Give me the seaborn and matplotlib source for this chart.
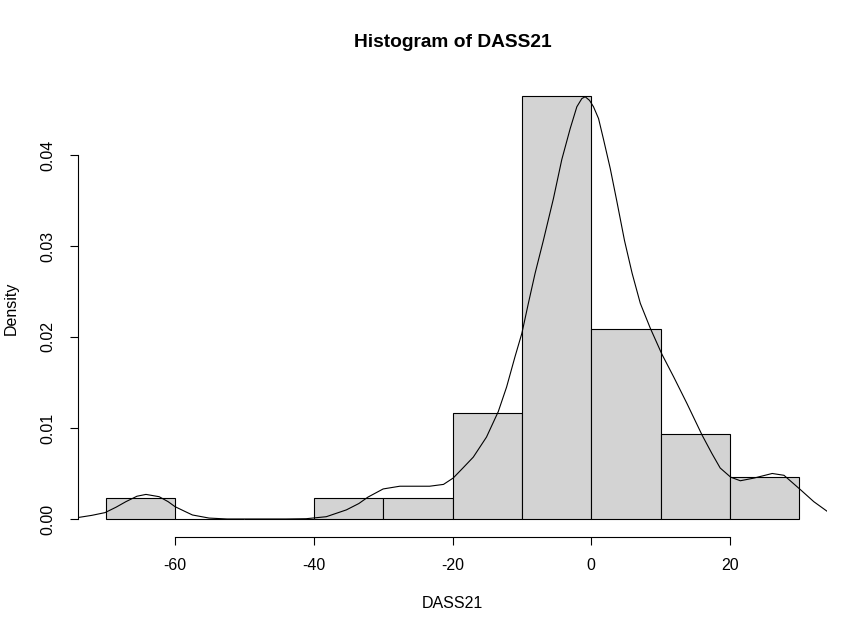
import numpy as np
import pandas as pd
import matplotlib
matplotlib.use("Agg")
import matplotlib.pyplot as plt
import seaborn as sns

# ---- data ----
bin_edges = [-70, -60, -50, -40, -30, -20, -10, 0, 10, 20, 30]
bin_counts = [1, 0, 0, 1, 1, 5, 20, 9, 4, 2]
bin_mids = [(a + b) / 2 for a, b in zip(bin_edges[:-1], bin_edges[1:])]

# kernel density curve
dens_x = [-74.5, -72.0, -70.1, -68.5, -67.1, -65.5, -64.2, -62.3, -61.0, -60.0,
          -58.5, -57.5, -55.1, -52.5, -44.0, -41.1, -38.2, -35.3, -33.5, -32.2,
          -30.0, -27.6, -25.5, -23.3, -21.3, -19.9, -18.5, -17.0, -15.1, -13.4,
          -12.2, -11.0, -10.0, -9.06, -8.09, -6.9, -5.45, -4.24, -3.03, -2.07,
          -1.35, -0.87, -0.24, 0.33, 1.06, 1.78, 2.75, 3.7, 4.8, 5.9,
          7.08, 8.5, 10.2, 11.9, 13.8, 16.0, 17.4, 18.6, 20.1, 21.5,
          23.5, 26.1, 27.8, 30.2, 32.1, 34.1]
dens_y = [0.0001, 0.0004, 0.0007, 0.0013, 0.0019, 0.0025, 0.0027, 0.00245, 0.0019, 0.00135,
          0.0008, 0.00044, 0.0001, 0.0, 0.0, 0.00003, 0.00025, 0.0010, 0.0017, 0.0024,
          0.0033, 0.0036, 0.0036, 0.0036, 0.0038, 0.0045, 0.0056, 0.0068, 0.0090, 0.0118,
          0.0145, 0.0178, 0.0204, 0.0237, 0.0270, 0.0306, 0.0352, 0.0395, 0.0429, 0.0453,
          0.0462, 0.0464, 0.0460, 0.0453, 0.0440, 0.0417, 0.0385, 0.0349, 0.0306, 0.0270,
          0.0237, 0.0210, 0.0181, 0.0156, 0.0127, 0.0092, 0.0072, 0.0056, 0.0046, 0.0042,
          0.0045, 0.0050, 0.0048, 0.0032, 0.0019, 0.0008]

x_ticks = [-60, -40, -20, 0, 20]
y_ticks = [0.00, 0.01, 0.02, 0.03, 0.04]
y_tick_labels = ["0.00", "0.01", "0.02", "0.03", "0.04"]

title = "Histogram of DASS21"
x_label = "DASS21"
y_label = "Density"

# ---- style ----
sns.set_style("white")
plt.rcParams["font.family"] = ["Liberation Sans", "DejaVu Sans"]

W, H = 868, 634
fig = plt.figure(figsize=(W / 100, H / 100), dpi=100)
L, R, T, B = 78, 827, 79, 537
ax = fig.add_axes([L / W, 1 - B / H, (R - L) / W, (B - T) / H])

hist_df = pd.DataFrame({"x": bin_mids, "w": bin_counts})
sns.histplot(data=hist_df, x="x", weights="w", bins=bin_edges, stat="density",
             color="#D3D3D3", edgecolor="black", linewidth=0.8, alpha=1, ax=ax)

dens_df = pd.DataFrame({"x": dens_x, "y": dens_y})
sns.lineplot(data=dens_df, x="x", y="y", color="black", linewidth=0.8,
             sort=False, ax=ax)

ax.set_xlim(-74, 34)
ax.set_ylim(-0.00198, 0.04835)

for s in ["top", "right"]:
    ax.spines[s].set_visible(False)
ax.spines["left"].set_bounds(0, 0.04)
ax.spines["bottom"].set_bounds(-60, 20)
for s in ["left", "bottom"]:
    ax.spines[s].set_linewidth(0.8)
    ax.spines[s].set_color("black")

ax.set_xticks(x_ticks)
ax.set_xticklabels([str(v) for v in x_ticks])
ax.set_yticks(y_ticks)
ax.set_yticklabels(y_tick_labels, rotation=90, va="center")
ax.tick_params(axis="both", direction="out", length=6, width=0.8, color="black",
               labelsize=11.5, labelcolor="black", left=True, bottom=True)
ax.tick_params(axis="x", pad=9)
ax.tick_params(axis="y", pad=10.5)

ax.set_xlabel(x_label, fontsize=11.5, color="black")
ax.set_ylabel(y_label, fontsize=11.5, color="black")
ax.xaxis.set_label_coords(0.5, -(596 - B) / (B - T))
ax.yaxis.set_label_coords((19 - L) / (R - L), 0.5)

fig.text((L + R) / 2 / W, 1 - 47.3 / H, title, ha="center", va="baseline",
         fontsize=13.8, fontweight="bold", color="black")

fig.savefig("out.png", dpi=100, facecolor="white")
